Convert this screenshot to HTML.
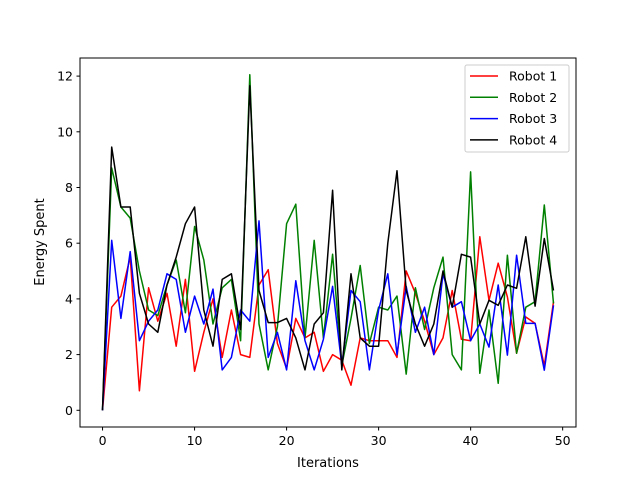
<!DOCTYPE html>
<html><head><meta charset="utf-8"><style>
body{margin:0;background:#fff}
svg{font-family:"DejaVu Sans","Liberation Sans",sans-serif}
</style></head><body>
<svg id="chart" width="640" height="480" xmlns="http://www.w3.org/2000/svg">
<rect width="640" height="480" fill="#fff"/>
<g id="plot"></g>
<rect x="80" y="58" width="496" height="369" fill="none" stroke="#000" stroke-width="1"/>
<g id="axes"></g>
<text x="328" y="467" font-size="13" text-anchor="middle">Iterations</text>
<text transform="translate(44,242) rotate(-90)" font-size="13" text-anchor="middle">Energy Spent</text>
<g id="legend"></g>
</svg>
<script>
const robot1 = [0,3.7,4.1,5.5,0.7,4.4,3.2,4.2,2.3,4.7,1.4,2.8,4.0,1.9,3.6,2.0,1.9,4.5,5.05,2.4,1.5,3.3,2.6,2.8,1.4,2.0,1.8,0.9,2.6,2.5,2.5,2.5,1.9,5.0,4.2,3.2,2.0,2.6,4.3,2.55,2.5,6.23,3.95,5.28,4.07,2.05,3.35,3.12,1.6,3.9];
const robot2 = [0,8.7,7.3,6.9,5.0,3.6,3.4,4.5,5.4,3.5,6.6,5.4,3.1,4.4,4.7,2.5,12.05,3.1,1.45,3.0,6.7,7.4,2.6,6.1,2.6,5.6,1.6,3.3,5.2,2.4,3.7,3.6,4.1,1.3,4.4,2.9,4.4,5.5,2.0,1.45,8.56,1.33,3.6,0.97,5.57,2.05,3.7,3.9,7.37,3.84];
const robot3 = [0,6.1,3.3,5.7,2.5,3.2,3.6,4.9,4.7,2.8,4.1,3.1,4.35,1.45,1.9,3.6,3.2,6.8,1.9,2.8,1.45,4.65,2.5,1.45,2.55,4.45,1.6,4.3,3.9,1.45,3.6,4.9,2.0,4.45,2.8,3.7,2.0,4.9,3.7,3.9,2.5,3.1,2.27,4.5,1.98,5.57,3.12,3.12,1.44,3.77];
const robot4 = [0,9.45,7.3,7.3,4.2,3.1,2.8,4.5,5.5,6.7,7.3,3.6,2.3,4.7,4.9,2.9,11.65,4.3,3.15,3.15,3.3,2.6,1.45,3.1,3.5,7.9,1.45,4.9,2.6,2.3,2.3,6.0,8.6,4.3,3.1,2.3,3.1,5.0,3.7,5.6,5.5,3.1,3.95,3.77,4.5,4.38,6.23,3.74,6.17,4.3];
const seriesNames = ["Robot 1","Robot 2","Robot 3","Robot 4"];
const xTicks = [0,10,20,30,40,50];
const yTicks = [0,2,4,6,8,10,12];

const NS="http://www.w3.org/2000/svg";
const X0=80,X1=576,Y0=58,Y1=427;
const xMin=-2.45,xMax=51.45,yMin=-0.6,yMax=12.65;
function xs(v){return X0+(v-xMin)/(xMax-xMin)*(X1-X0);}
function ys(v){return Y1-(v-yMin)/(yMax-yMin)*(Y1-Y0);}
function mk(t,a,p){const e=document.createElementNS(NS,t);for(const k in a)e.setAttribute(k,a[k]);p.appendChild(e);return e;}
const colors=["#ff0000","#008000","#0000ff","#000000"];
const all=[robot1,robot2,robot3,robot4];
const plot=document.getElementById('plot');
all.forEach((s,i)=>{
  const pts=s.map((v,j)=>xs(j).toFixed(1)+","+ys(v).toFixed(1)).join(" ");
  const pl=mk('polyline',{points:pts,fill:'none',stroke:colors[i],'stroke-width':1.5,'stroke-linejoin':'round'},plot);
  
  
});
const ax=document.getElementById('axes');
xTicks.forEach(t=>{
  const x=xs(t);
  const l=mk('line',{x1:x,x2:x,y1:Y1,y2:Y1+3.5,stroke:'#000'},ax);
  
  
  const tx=mk('text',{x:x,y:Y1+18,'font-size':12.5,'text-anchor':'middle'},ax);
  tx.textContent=t;
  
  
});
yTicks.forEach(t=>{
  const y=ys(t);
  const l=mk('line',{x1:X0-3.5,x2:X0,y1:y,y2:y,stroke:'#000'},ax);
  
  
  const tx=mk('text',{x:X0-7,y:y+4.5,'font-size':12.5,'text-anchor':'end'},ax);
  tx.textContent=t;
  
  
});
const lg=document.getElementById('legend');
const box=mk('rect',{x:465,y:65,width:104,height:87,rx:2,fill:'#fff','fill-opacity':0.8,stroke:'#ccc'},lg);


seriesNames.forEach((n,i)=>{
  const y=76+i*21.3;
  const l=mk('line',{x1:470,x2:498,y1:y,y2:y,stroke:colors[i],'stroke-width':1.5},lg);
  
  
  const tx=mk('text',{x:509,y:y+4.5,'font-size':12.5},lg);
  tx.textContent=n;
  
  
});
</script>
</body></html>
